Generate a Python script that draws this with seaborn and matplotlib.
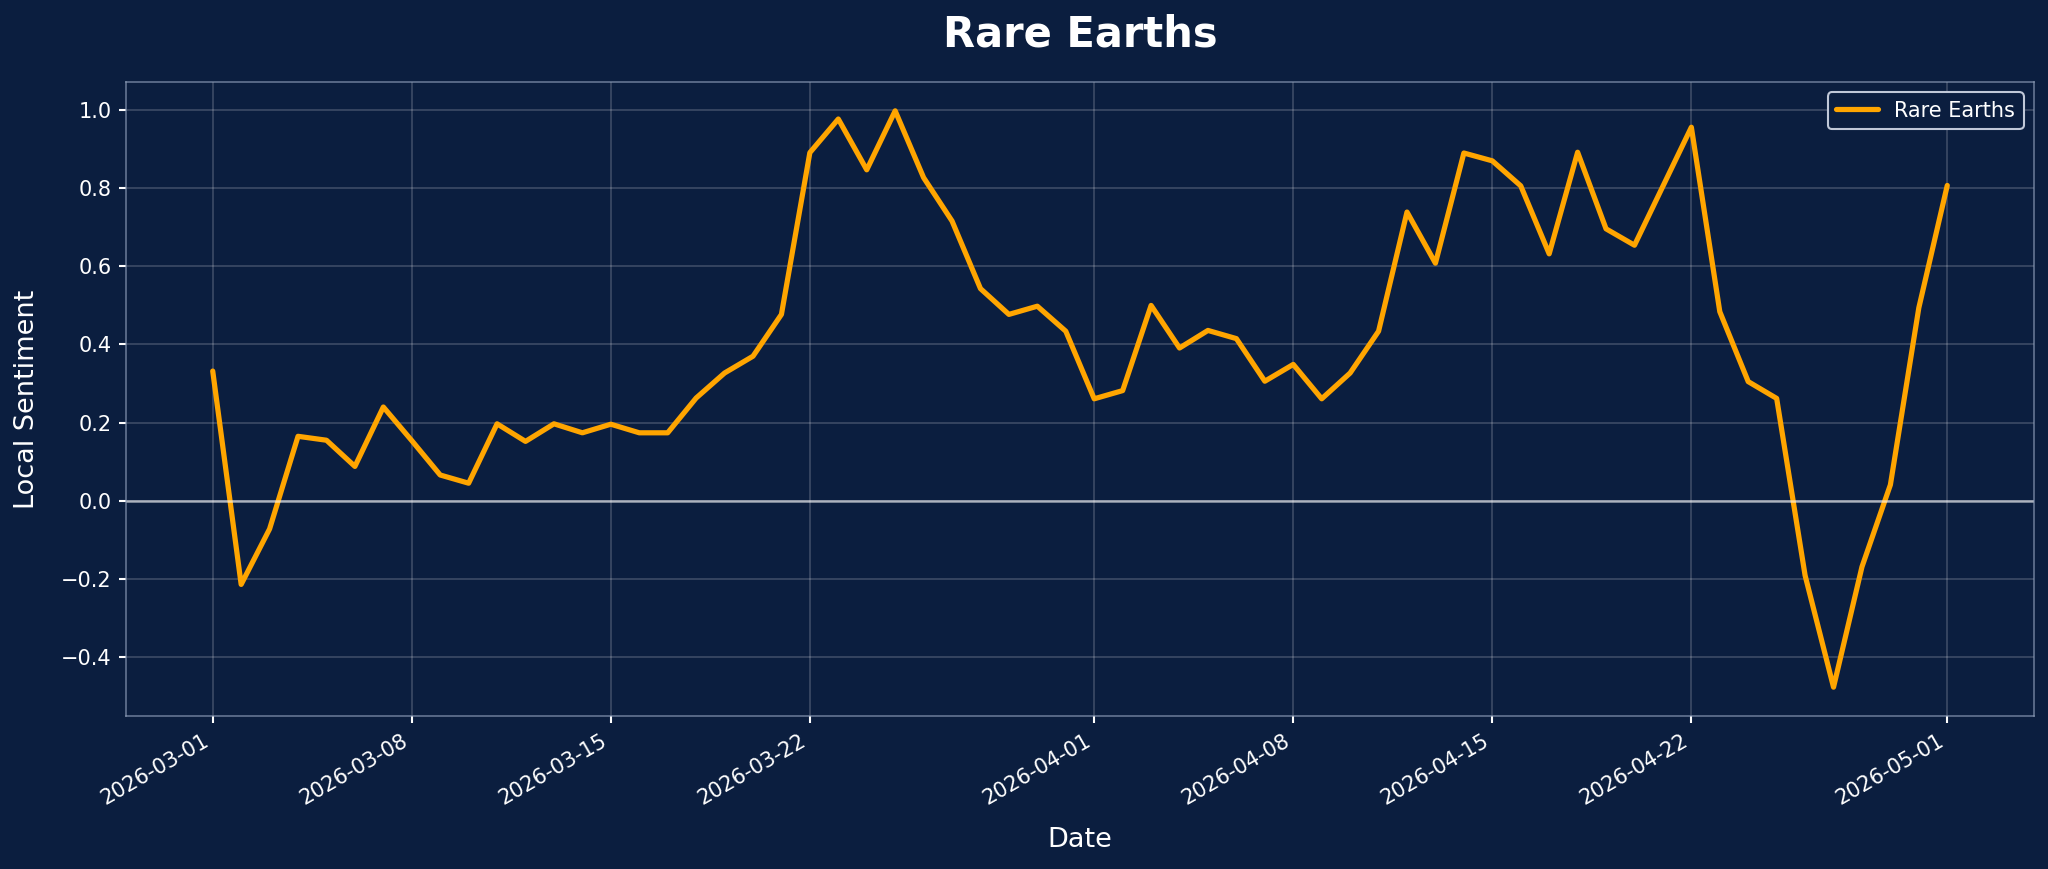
import numpy as np
import pandas as pd
import matplotlib
matplotlib.use("Agg")
import matplotlib.pyplot as plt
import matplotlib.dates as mdates
import seaborn as sns

start_date = "2026-03-01"
end_date = "2026-05-01"
series_name = "Rare Earths"
sentiment = [
    0.332, -0.214, -0.072, 0.165, 0.155, 0.088, 0.240, 0.154, 0.066, 0.045,
    0.197, 0.152, 0.197, 0.174, 0.196, 0.174, 0.174, 0.263, 0.327, 0.370,
    0.477, 0.891, 0.977, 0.847, 0.998, 0.827, 0.716, 0.543, 0.477, 0.498,
    0.434, 0.261, 0.282, 0.500, 0.391, 0.436, 0.415, 0.306, 0.349, 0.261,
    0.327, 0.434, 0.739, 0.608, 0.890, 0.870, 0.806, 0.632, 0.892, 0.696,
    0.654, 0.805, 0.956, 0.484, 0.305, 0.262, -0.191, -0.477, -0.169, 0.041,
    0.494, 0.807,
]
dates = pd.date_range(start_date, end_date, freq="D")
df = pd.DataFrame({"Date": dates, "Local Sentiment": sentiment})

BG = "#0b1e3f"
sns.set_theme(style="darkgrid")
plt.rcParams["font.family"] = ["DejaVu Sans"]

fig, ax = plt.subplots(figsize=(2048 / 150, 869 / 150), dpi=150)
fig.patch.set_facecolor(BG)
ax.set_facecolor(BG)

sns.lineplot(data=df, x="Date", y="Local Sentiment", ax=ax, color="#FFA500",
             linewidth=2.5, label=series_name)
ax.axhline(0, color="white", alpha=0.6, linewidth=1.2)

ax.grid(True, color="white", alpha=0.2, linewidth=0.8)
for s in ax.spines.values():
    s.set_visible(True)
    s.set_color("#8a9ab5")
    s.set_alpha(0.7)
    s.set_linewidth(0.8)

ax.xaxis.set_major_locator(mdates.DayLocator(bymonthday=[1, 8, 15, 22]))
ax.xaxis.set_major_formatter(mdates.DateFormatter("%Y-%m-%d"))
ax.tick_params(colors="white", labelsize=10, length=3.5, width=1, bottom=True, left=True)
for lbl in ax.get_xticklabels():
    lbl.set_rotation(30)
    lbl.set_ha("right")

ax.set_xlabel("Date", color="white", fontsize=13, labelpad=9)
ax.set_ylabel("Local Sentiment", color="white", fontsize=13, labelpad=10)
ax.set_title(series_name, color="white", fontsize=20, fontweight="bold", pad=17)

leg = ax.legend(loc="upper right", facecolor=BG, edgecolor="#c0c8d8", fontsize=10)
for t in leg.get_texts():
    t.set_color("white")
leg.get_frame().set_alpha(1.0)

fig.subplots_adjust(left=126 / 2048, right=2034 / 2048, top=1 - 82 / 869, bottom=1 - 716 / 869)
fig.savefig("out.png", dpi=150, facecolor=BG)
